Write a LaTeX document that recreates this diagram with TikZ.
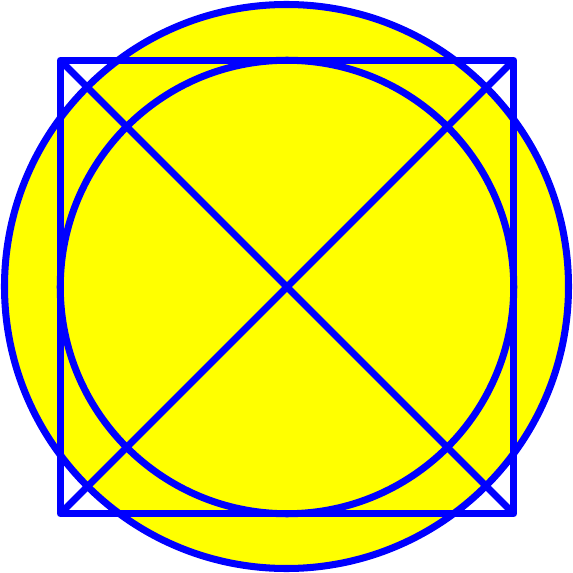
\documentclass[tikz,border=0pt]{standalone}
\usepackage{xcolor}
\usetikzlibrary{math}
\definecolor{myblue}{RGB}{0, 0, 255}
\definecolor{myyellow}{RGB}{255, 255, 0}

\begin{document}
\begin{tikzpicture}[scale=1]
\tikzmath{
\B=5.73;
\a=4.535;
\R=5.64;
\c=0.01;
}
\useasboundingbox (-\B,-\B) rectangle (\B,\B);

\coordinate (O) at (0,0);
\coordinate (C) at (\c,-\c);
\coordinate (SW) at (\c-\a,-\c-\a);
\coordinate (SE) at (\c+\a,-\c-\a);
\coordinate (NE) at (\c+\a,-\c+\a);
\coordinate (NW) at (\c-\a,-\c+\a);

 \fill[color=myyellow] (O) circle(\R);
 \draw[color=myblue, line width=4pt, line join=round] (SW) -- (SE) -- (NE) -- (NW) -- cycle;
 \draw[color=myblue, line width=4pt] (SW) -- (NE);
 \draw[color=myblue, line width=4pt] (NW) -- (SE);
 \draw[color=myblue, line width=4pt] (C) circle(\a);
 \draw[color=myblue, line width=4pt] (O) circle(\R);
\end{tikzpicture}
\end{document}
